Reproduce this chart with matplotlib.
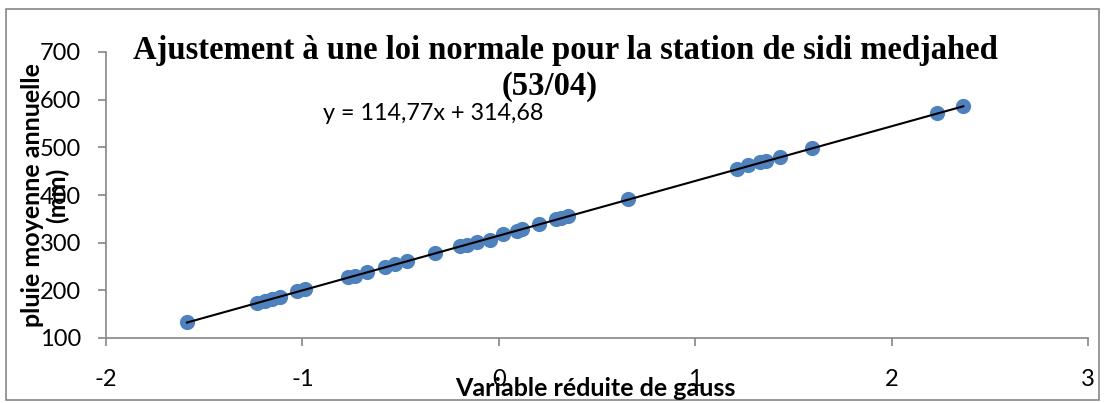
import matplotlib
matplotlib.use("Agg")
import matplotlib.pyplot as plt
from matplotlib.patches import Rectangle
import numpy as np

plt.rcParams["axes.unicode_minus"] = False

# Data
x_gauss = [-1.588, -1.233, -1.190, -1.156, -1.114, -1.030, -0.987,
           -0.766, -0.732, -0.673, -0.579, -0.529, -0.469, -0.325,
           -0.198, -0.164, -0.113, -0.045, 0.023, 0.091, 0.116,
           0.206, 0.291, 0.317, 0.351, 0.660,
           1.211, 1.270, 1.330, 1.360, 1.430, 1.596, 2.230, 2.365]
pluie = [133, 174, 178, 182, 186, 198, 202,
         228, 231, 238, 250, 255, 261, 278,
         292, 296, 301, 306, 318, 325, 328,
         339, 350, 352, 355, 391,
         455, 462, 469, 472, 480, 499, 571, 587]
slope, intercept = 114.77, 314.68
x_ticks = [-2, -1, 0, 1, 2, 3]
y_ticks = [100, 200, 300, 400, 500, 600, 700]

title_l1 = "Ajustement à une loi normale pour la station de sidi medjahed"
title_l2 = "(53/04)"
eq_label = "y = 114,77x + 314,68"
xlabel = "Variable réduite de gauss"
ylabel = "pluie moyenne annuelle\n(mm)"

W, H = 1105, 403
fig = plt.figure(figsize=(W / 100, H / 100), dpi=100)
ax = fig.add_axes([106 / W, 1 - 338 / H, (1088 - 106) / W, (338 - 52) / H])

gray = "#868686"
blue = "#4F81BD"

ax.scatter(x_gauss, pluie, s=120, color=blue, zorder=3, linewidths=0)
xs = np.array([min(x_gauss), max(x_gauss)])
ax.plot(xs, slope * xs + intercept, color="black", lw=1.5, zorder=4)

ax.set_xlim(-2, 3)
ax.set_ylim(100, 700)
ax.set_xticks(x_ticks)
ax.set_yticks(y_ticks)
for s in ["top", "right"]:
    ax.spines[s].set_visible(False)
for s in ["left", "bottom"]:
    ax.spines[s].set_color(gray)
    ax.spines[s].set_linewidth(1.2)
ax.tick_params(axis="both", direction="out", length=6, width=1.2, color=gray,
               labelsize=17)
ax.tick_params(axis="x", pad=16)
ax.tick_params(axis="y", pad=12)
for lab in ax.get_xticklabels() + ax.get_yticklabels():
    lab.set_fontfamily("Lato")

fig.text(565 / W, 1 - 50 / H, title_l1, ha="center", va="center",
         fontfamily="Liberation Serif", fontweight="bold", fontsize=23.5)
fig.text(550 / W, 1 - 87 / H, title_l2, ha="center", va="center",
         fontfamily="Liberation Serif", fontweight="bold", fontsize=23.5)
fig.text(433 / W, 1 - 114 / H, eq_label, ha="center", va="center",
         fontfamily="Lato", fontsize=16.8)
fig.text(595 / W, 1 - 389 / H, xlabel, ha="center", va="center",
         fontfamily="Lato", fontweight="bold", fontsize=18)
fig.text(45 / W, 1 - 195 / H, ylabel, ha="center", va="center",
         rotation=90, fontfamily="Lato", fontweight="bold", fontsize=18,
         linespacing=1.05)

fig.patches.append(Rectangle((6 / W, 1 - 400 / H), (1099 - 6) / W, (400 - 9) / H,
                             transform=fig.transFigure, fill=False,
                             edgecolor=gray, lw=1.2))

fig.savefig("out.png", dpi=100)
